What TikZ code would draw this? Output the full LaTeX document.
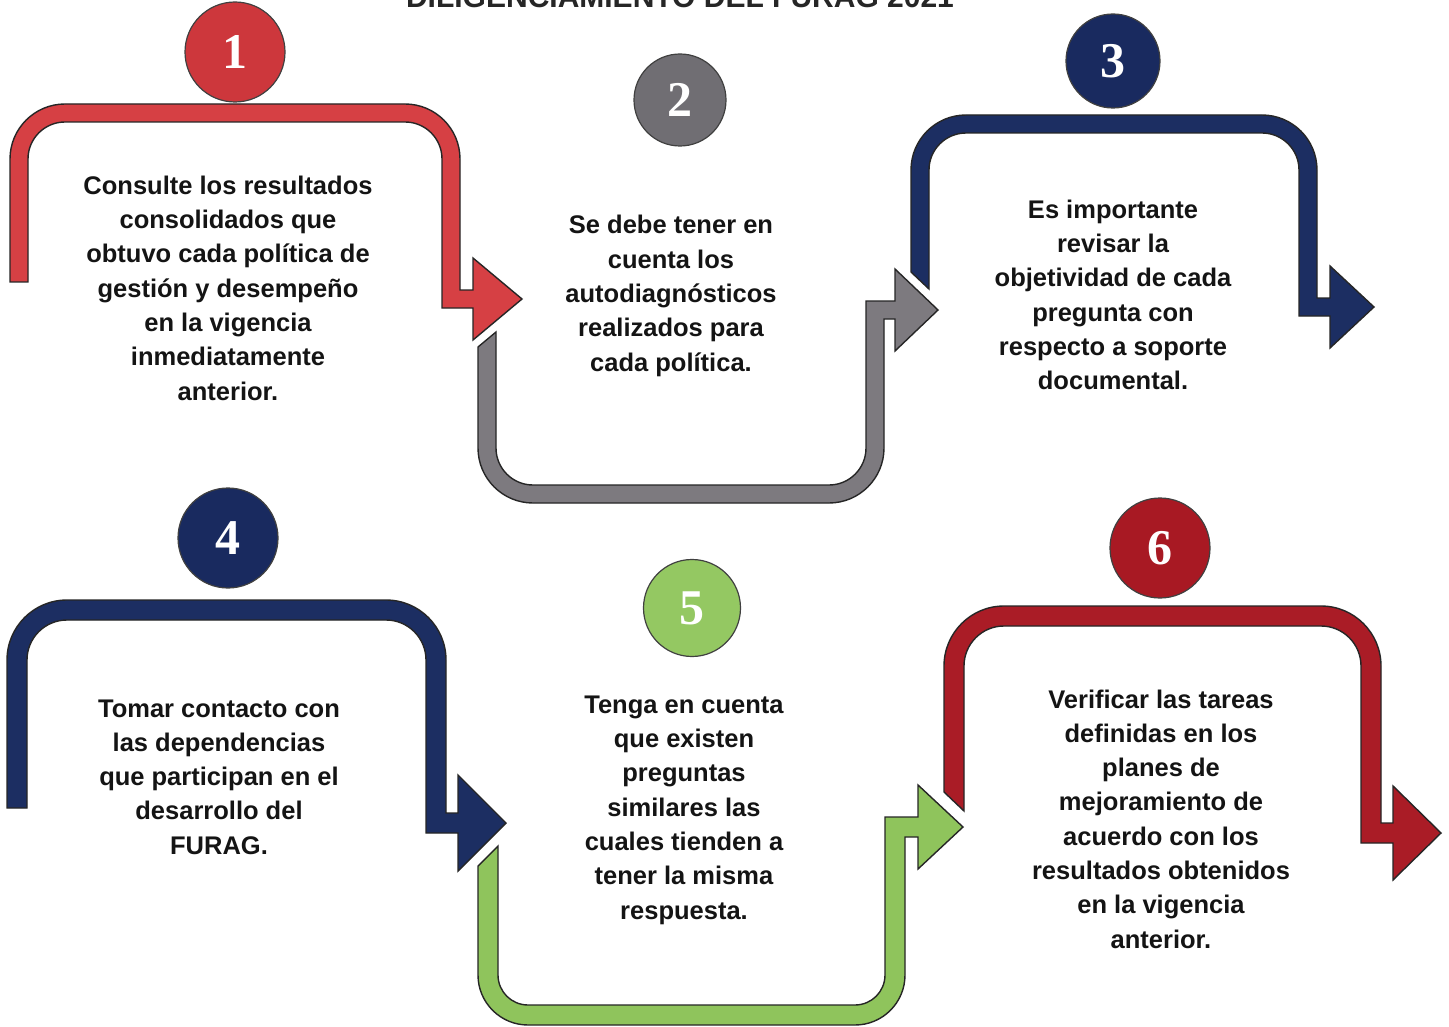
\documentclass[tikz,border=0pt]{standalone}
\usepackage{fontspec}
\newfontfamily\bodyfont{Liberation Sans}
\newfontfamily\numfont{Liberation Serif}
\definecolor{redA}{RGB}{214,64,68}
\definecolor{greyA}{RGB}{125,122,127}
\definecolor{navyA}{RGB}{28,46,98}
\definecolor{greenA}{RGB}{143,196,92}
\definecolor{redB}{RGB}{170,28,38}
\definecolor{cRed}{RGB}{205,55,60}
\definecolor{cGrey}{RGB}{112,110,115}
\definecolor{cNavy}{RGB}{25,42,95}
\definecolor{cGreen}{RGB}{148,200,98}
\definecolor{cRedB}{RGB}{168,25,35}
\begin{document}
\begin{tikzpicture}[x=1pt,y=1pt,
  band/.style={draw=black!85, line width=1.4pt, line join=miter},
  numcirc/.style={circle, draw=black!75, line width=1.2pt, inner sep=0pt,
    text=white, font=\numfont\bfseries\fontsize{50}{50}\selectfont},
  bodytxt/.style={align=center, inner sep=0pt, text=black!92,
    font=\bodyfont\bfseries\fontsize{25.5}{34.3}\selectfont},
  titletxt/.style={inner sep=0pt, anchor=base, text=black!85,
    font=\bodyfont\bfseries\fontsize{30}{36}\selectfont}]
\useasboundingbox (0,0) rectangle (1449,-1027);
\fill[white] (0,0) rectangle (1449,-1027);
\clip (0,0) rectangle (1449,-1027);

% title (cut off at the top of the page)
\node[titletxt] (title) at (680,-8) {DILIGENCIAMIENTO DEL FURAG 2021};

% 1 red
\path[band, fill=redA] (10,-282) -- (10,-159) arc[start angle=180,end angle=90,radius=55pt]
  -- (405,-104) arc[start angle=90,end angle=0,radius=55pt]
  -- (460,-290) -- (473,-290) -- (473,-258) -- (522,-299) -- (473,-340) -- (473,-308)
  -- (442,-308) -- (442,-159) arc[start angle=0,end angle=90,radius=37pt]
  -- (65,-122) arc[start angle=90,end angle=180,radius=37pt] -- (28,-282) -- cycle;
% 2 grey
\path[band, fill=greyA] (478,-347) -- (478,-448) arc[start angle=180,end angle=270,radius=55pt]
  -- (829,-503) arc[start angle=270,end angle=360,radius=55pt]
  -- (884,-319) -- (895,-319) -- (895,-351) -- (938,-310) -- (895,-269) -- (895,-301)
  -- (866,-301) -- (866,-448) arc[start angle=0,end angle=-90,radius=37pt]
  -- (533,-485) arc[start angle=270,end angle=180,radius=37pt] -- (496,-332) -- cycle;
% 3 navy
\path[band, fill=navyA] (911,-272) -- (911,-170) arc[start angle=180,end angle=90,radius=55pt]
  -- (1262,-115) arc[start angle=90,end angle=0,radius=55pt]
  -- (1317,-298) -- (1330,-298) -- (1330,-266) -- (1374,-307) -- (1330,-348) -- (1330,-316)
  -- (1299,-316) -- (1299,-170) arc[start angle=0,end angle=90,radius=37pt]
  -- (966,-133) arc[start angle=90,end angle=180,radius=37pt] -- (929,-289) -- cycle;
% 4 navy
\path[band, fill=navyA] (7,-808) -- (7,-660) arc[start angle=180,end angle=90,radius=60pt]
  -- (386,-600) arc[start angle=90,end angle=0,radius=60pt]
  -- (446,-813) -- (458,-813) -- (458,-775) -- (506,-823) -- (458,-871) -- (458,-833)
  -- (426,-833) -- (426,-660) arc[start angle=0,end angle=90,radius=40pt]
  -- (67,-620) arc[start angle=90,end angle=180,radius=40pt] -- (27,-808) -- cycle;
% 5 green
\path[band, fill=greenA] (478,-866) -- (478,-975) arc[start angle=180,end angle=270,radius=50pt]
  -- (855,-1025) arc[start angle=270,end angle=360,radius=50pt]
  -- (905,-837) -- (918,-837) -- (918,-869) -- (963,-827) -- (918,-785) -- (918,-817)
  -- (885,-817) -- (885,-975) arc[start angle=0,end angle=-90,radius=30pt]
  -- (528,-1005) arc[start angle=270,end angle=180,radius=30pt] -- (498,-846) -- cycle;
% 6 dark red
\path[band, fill=redB] (944,-792) -- (944,-666) arc[start angle=180,end angle=90,radius=60pt]
  -- (1321,-606) arc[start angle=90,end angle=0,radius=60pt]
  -- (1381,-823) -- (1393,-823) -- (1393,-786) -- (1441,-833) -- (1393,-880) -- (1393,-843)
  -- (1361,-843) -- (1361,-666) arc[start angle=0,end angle=90,radius=40pt]
  -- (1004,-626) arc[start angle=90,end angle=180,radius=40pt] -- (964,-811) -- cycle;

% numbered circles
\node[numcirc, fill=cRed, minimum size=100pt] (c1) at (235,-52) {1};
\node[numcirc, fill=cGrey, minimum size=92pt] (c2) at (680,-100) {2};
\node[numcirc, fill=cNavy, minimum size=94pt] (c3) at (1113,-61) {3};
\node[numcirc, fill=cNavy, minimum size=100pt] (c4) at (228,-538) {4};
\node[numcirc, fill=cGreen, minimum size=97pt] (c5) at (692,-608) {5};
\node[numcirc, fill=cRedB, minimum size=100pt] (c6) at (1160,-548) {6};

% texts
\node[bodytxt] (t1) at (228,-288) {Consulte los resultados\\consolidados que\\obtuvo cada política de\\gestión y desempeño\\en la vigencia\\inmediatamente\\anterior.};
\node[bodytxt] (t2) at (671,-296) {Se debe tener en\\cuenta los\\autodiagnósticos\\realizados para\\cada política.};
\node[bodytxt] (t3) at (1113,-295) {Es importante\\revisar la\\objetividad de cada\\pregunta con\\respecto a soporte\\documental.};
\node[bodytxt] (t4) at (219,-777) {Tomar contacto con\\las dependencias\\que participan en el\\desarrollo del\\FURAG.};
\node[bodytxt] (t5) at (684,-810) {Tenga en cuenta\\que existen\\preguntas\\similares las\\cuales tienden a\\tener la misma\\respuesta.};
\node[bodytxt] (t6) at (1161,-819) {Verificar las tareas\\definidas en los\\planes de\\mejoramiento de\\acuerdo con los\\resultados obtenidos\\en la vigencia\\anterior.};
\end{tikzpicture}
\end{document}
